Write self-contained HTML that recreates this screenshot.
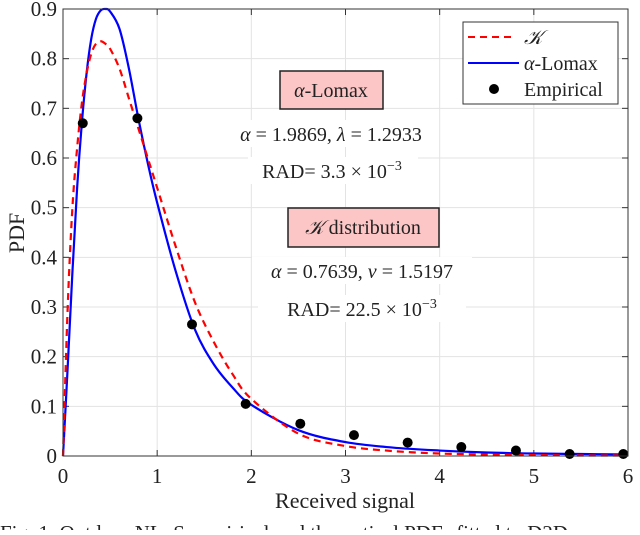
<!DOCTYPE html>
<html><head><meta charset="utf-8"><style>
body{margin:0;background:#fff;}
svg text{font-family:"Liberation Serif",serif;fill:#222;}
</style></head><body>
<svg id="chart" width="640" height="530">
<g id="grid"></g>
<g id="ticks"></g>
<g id="series"></g>
<rect x="63" y="9" width="565" height="447" fill="none" stroke="#333" stroke-width="1"/>
<text x="345" y="508" font-size="22" text-anchor="middle">Received signal</text>
<text transform="translate(24,233) rotate(-90)" font-size="22" text-anchor="middle">PDF</text>
<g>
<rect x="280" y="71" width="103" height="38" fill="#fcc6c6" stroke="#222" stroke-width="1.5"/>
<text x="331" y="97" font-size="20" text-anchor="middle"><tspan font-style="italic">α</tspan>-Lomax</text>
<rect x="236" y="120" width="190" height="27" fill="#fff"/>
<text x="331" y="141" font-size="20" text-anchor="middle"><tspan font-style="italic">α</tspan> = 1.9869, <tspan font-style="italic">λ</tspan> = 1.2933</text>
<rect x="248" y="157" width="170" height="27" fill="#fff"/>
<text x="332" y="178" font-size="20" text-anchor="middle">RAD= 3.3 × 10<tspan font-size="14" dy="-8">−3</tspan></text>
</g>
<g>
<rect x="288" y="208" width="151" height="39" fill="#fcc6c6" stroke="#222" stroke-width="1.5"/>
<text x="363" y="234" font-size="20" text-anchor="middle"><tspan font-style="italic">𝒦</tspan> distribution</text>
<rect x="252" y="257" width="220" height="27" fill="#fff"/>
<text x="362" y="278" font-size="20" text-anchor="middle"><tspan font-style="italic">α</tspan> = 0.7639, <tspan font-style="italic">v</tspan> = 1.5197</text>
<rect x="258" y="295" width="208" height="27" fill="#fff"/>
<text x="362" y="316" font-size="20" text-anchor="middle">RAD= 22.5 × 10<tspan font-size="14" dy="-8">−3</tspan></text>
</g>
<g>
<rect x="463" y="22" width="155" height="82" fill="#fff" stroke="#333" stroke-width="1"/>
<line x1="468" y1="37" x2="513" y2="37" stroke="#f00" stroke-width="2" stroke-dasharray="7,5"/>
<text x="524" y="44" font-size="20" font-style="italic">𝒦</text>
<line x1="468" y1="63" x2="519" y2="63" stroke="#00f" stroke-width="2"/>
<text x="524" y="70" font-size="20"><tspan font-style="italic">α</tspan>-Lomax</text>
<circle cx="494" cy="89" r="5" fill="#000"/>
<text x="524" y="96" font-size="20">Empirical</text>
</g>
<text x="0" y="540" font-size="21">Fig. 1.   Outdoor NLoS empirical and theoretical PDFs fitted to D2D</text>
</svg>
<script>
const xTicks=[0,1,2,3,4,5,6];
const yTicks=[0,0.1,0.2,0.3,0.4,0.5,0.6,0.7,0.8,0.9];
const curveX=[0,0.05,0.1,0.15,0.2,0.25,0.3,0.35,0.4,0.45,0.5,0.6,0.7,0.8,0.9,1.0,1.2,1.4,1.6,1.8,2.0,2.5,3,3.5,4,4.5,5,5.5,6];
const lomaxY=[0,0.18,0.37,0.54,0.67,0.77,0.84,0.88,0.897,0.9,0.895,0.86,0.78,0.68,0.59,0.51,0.37,0.255,0.185,0.138,0.103,0.052,0.028,0.017,0.011,0.007,0.005,0.004,0.003];
const kY=[0,0.3,0.5,0.62,0.71,0.77,0.81,0.83,0.835,0.83,0.82,0.78,0.72,0.66,0.6,0.54,0.42,0.31,0.23,0.165,0.115,0.045,0.02,0.01,0.005,0.003,0.002,0.001,0.001];
const empX=[0.21,0.79,1.37,1.94,2.52,3.09,3.66,4.23,4.81,5.38,5.95];
const empY=[0.67,0.68,0.265,0.105,0.065,0.042,0.027,0.018,0.011,0.004,0.004];
const NS='http://www.w3.org/2000/svg';
const sx=v=>63+v*565/6, sy=v=>456-v*447/0.9;
function mk(tag,attrs,parent){const e=document.createElementNS(NS,tag);for(const k in attrs)e.setAttribute(k,attrs[k]);parent.appendChild(e);return e;}
const grid=document.getElementById('grid'),ticks=document.getElementById('ticks'),series=document.getElementById('series');
xTicks.forEach(t=>{
 const g=mk('line',{x1:sx(t),x2:sx(t),y1:9,y2:456,stroke:'#e3e3e3'},grid);
 
 
 mk('line',{x1:sx(t),x2:sx(t),y1:456,y2:450,stroke:'#333'},ticks);
 mk('line',{x1:sx(t),x2:sx(t),y1:9,y2:15,stroke:'#333'},ticks);
 const tx=mk('text',{x:sx(t),y:483,'font-size':21,'text-anchor':'middle'},ticks);
 tx.textContent=t;
 
 
});
yTicks.forEach(t=>{
 const g=mk('line',{x1:63,x2:628,y1:sy(t),y2:sy(t),stroke:'#e3e3e3'},grid);
 
 
 mk('line',{x1:63,x2:69,y1:sy(t),y2:sy(t),stroke:'#333'},ticks);
 mk('line',{x1:622,x2:628,y1:sy(t),y2:sy(t),stroke:'#333'},ticks);
 const tx=mk('text',{x:57,y:sy(t)+7,'font-size':21,'text-anchor':'end'},ticks);
 tx.textContent=t===0?'0':String(t);
 
 
});
function pathD(xs,ys){
 const p=xs.map((x,i)=>[sx(x),sy(ys[i])]);
 let d='M'+p[0][0]+','+p[0][1];
 for(let i=0;i<p.length-1;i++){
  const p0=p[Math.max(0,i-1)],p1=p[i],p2=p[i+1],p3=p[Math.min(p.length-1,i+2)];
  d+=' C'+(p1[0]+(p2[0]-p0[0])/6)+','+(p1[1]+(p2[1]-p0[1])/6)+' '+(p2[0]-(p3[0]-p1[0])/6)+','+(p2[1]-(p3[1]-p1[1])/6)+' '+p2[0]+','+p2[1];
 }
 return d;
}
const lb=mk('path',{d:pathD(curveX,lomaxY),fill:'none',stroke:'#00f','stroke-width':2.2},series);


const kr=mk('path',{d:pathD(curveX,kY),fill:'none',stroke:'#f00','stroke-width':2.2,'stroke-dasharray':'7,5'},series);


empX.forEach((x,i)=>{
 const c=mk('circle',{cx:sx(x),cy:sy(empY[i]),r:5,fill:'#000'},series);
 
 
});
</script>
</body></html>
